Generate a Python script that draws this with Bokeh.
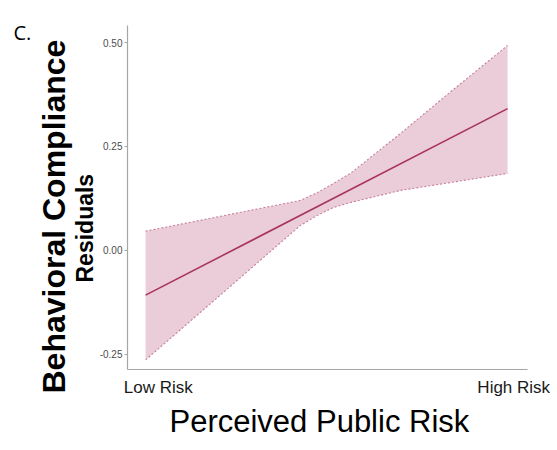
from bokeh.plotting import figure
from bokeh.models import FixedTicker, NumeralTickFormatter, Title, Range1d
from bokeh.embed import file_html
from bokeh.resources import INLINE

# data
band_x = [0.0, 0.428, 0.475, 0.519, 0.566, 0.704, 0.842, 1.0]
band_upper = [0.046, 0.120, 0.139, 0.161, 0.185, 0.281, 0.381, 0.493]
band_lower = [-0.264, 0.060, 0.084, 0.103, 0.115, 0.144, 0.163, 0.185]
line_x = [0.0, 1.0]
line_y = [-0.108, 0.341]
x_ticks = [0.035, 1.017]
x_tick_labels = ["Low Risk", "High Risk"]
y_ticks = [-0.25, 0.0, 0.25, 0.50]

FONT = "Liberation Sans"

p = figure(width=550, height=445, output_backend="svg", toolbar_location=None,
           x_range=Range1d(-0.05, 1.055), y_range=Range1d(-0.287, 0.541),
           min_border_left=127, min_border_right=23, min_border_top=25, min_border_bottom=76)
p.outline_line_color = None
p.grid.visible = False
p.background_fill_color = "white"

p.varea(x=band_x, y1=band_lower, y2=band_upper, fill_color="#EACDD9", fill_alpha=1.0)
p.line(band_x, band_upper, line_color="#C77E9C", line_width=1.1, line_dash="2 2")
p.line(band_x, band_lower, line_color="#C77E9C", line_width=1.1, line_dash="2 2")
p.line(line_x, line_y, line_color="#A8345F", line_width=1.6)

# x axis
xa = p.xaxis[0]
xa.ticker = FixedTicker(ticks=x_ticks)
xa.major_label_overrides = {t: l for t, l in zip(x_ticks, x_tick_labels)}
xa.major_tick_out = 0
xa.major_tick_in = 0
xa.minor_tick_out = 0
xa.minor_tick_in = 0
xa.major_label_standoff = 8
xa.major_label_text_font = FONT
xa.major_label_text_font_size = "17px"
xa.major_label_text_color = "#1a1a1a"
xa.axis_line_color = "#a6a6a6"
xa.axis_line_width = 1.2

# y axis
ya = p.yaxis[0]
ya.ticker = FixedTicker(ticks=y_ticks)
ya.formatter = NumeralTickFormatter(format="0.00")
ya.major_tick_out = 3
ya.major_tick_in = 0
ya.minor_tick_out = 0
ya.minor_tick_in = 0
ya.major_tick_line_color = "#a6a6a6"
ya.major_label_standoff = 2
ya.major_label_text_font = FONT
ya.major_label_text_font_size = "10px"
ya.major_label_text_color = "#4d4d4d"
ya.axis_line_color = "#a6a6a6"
ya.axis_line_width = 1.2

p.add_layout(Title(text="Perceived Public Risk", align="left", text_font=FONT,
                   text_font_size="31px", text_font_style="normal", text_color="black",
                   standoff=5, offset=42), "below")

p.add_layout(Title(text="Residuals", align="left", text_font=FONT,
                   text_font_size="23px", text_font_style="bold", text_color="black",
                   standoff=-3, offset=87), "left")
p.add_layout(Title(text="Behavioral Compliance", align="left", text_font=FONT,
                   text_font_size="32px", text_font_style="bold", text_color="black",
                   standoff=0, offset=-24), "left")

p.add_layout(Title(text="C.", align="left", text_font="Open Sans",
                   text_font_size="20px", text_font_style="normal", text_color="black",
                   standoff=-40, offset=-114), "above")

open("out.html", "w").write(file_html(p, INLINE))
